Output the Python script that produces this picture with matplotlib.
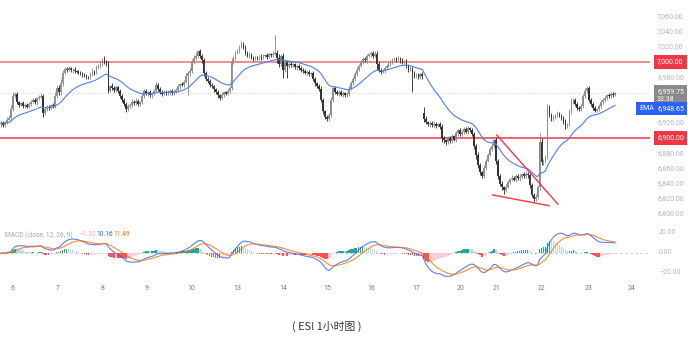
import numpy as np
import pandas as pd
import matplotlib
matplotlib.use("Agg")
import matplotlib.pyplot as plt
import matplotlib.transforms as mtrans

# ES1! hourly closes (one row = 10 bars)
closes = [
    6920, 6917, 6921, 6924, 6926, 6938, 6955, 6958, 6947, 6944,
    6946, 6942, 6944, 6941, 6945, 6948, 6950, 6947, 6952, 6954,
    6955, 6933, 6938, 6941, 6940, 6943, 6942, 6955, 6966, 6960,
    6972, 6986, 6991, 6990, 6992, 6989, 6990, 6988, 6987, 6986,
    6985, 6983, 6982, 6980, 6979, 6984, 6988, 6986, 6993, 6995,
    6998, 7003, 7000, 6998, 6962, 6968, 6966, 6963, 6967, 6962,
    6955, 6950, 6945, 6938, 6942, 6944, 6948, 6946, 6949, 6945,
    6947, 6955, 6962, 6958, 6960, 6956, 6958, 6962, 6970, 6965,
    6960, 6958, 6961, 6959, 6960, 6962, 6959, 6961, 6963, 6968,
    6971, 6970, 6974, 6982, 6985, 6988, 7000, 7005, 7008, 7014,
    7008, 7003, 6985, 6978, 6975, 6970, 6968, 6964, 6960, 6956,
    6953, 6957, 6960, 6958, 6962, 6966, 7000, 7005, 7012, 7015,
    7020, 7024, 7020, 7012, 7008, 7010, 7006, 7004, 7006, 7005,
    7007, 7006, 7008, 7009, 7007, 7010, 7009, 7011, 7012, 7005,
    6998, 7008, 6990, 7000, 6995, 6998, 6996, 6997, 6993, 6995,
    6992, 6990, 6988, 6986, 6987, 6984, 6985, 6978, 6972, 6968,
    6965, 6950, 6935, 6928, 6925, 6930, 6950, 6966, 6960, 6958,
    6961, 6957, 6959, 6956, 6958, 6965, 6972, 6978, 6984, 6990,
    6995, 7000, 7004, 7002, 7008, 7010, 7012, 7008, 7011, 6998,
    6990, 6987, 6989, 6992, 6995, 6998, 7000, 7002, 7004, 7003,
    7005, 7002, 7000, 7001, 6995, 6990, 6992, 6985, 6982, 6983,
    6980, 6984, 6981, 6925, 6921, 6918, 6920, 6917, 6919, 6916,
    6918, 6915, 6900, 6897, 6895, 6900, 6896, 6902, 6898, 6906,
    6910, 6905, 6908, 6912, 6908, 6913, 6910, 6905, 6890, 6878,
    6865, 6855, 6850, 6860, 6870, 6878, 6885, 6890, 6897, 6870,
    6850, 6840, 6835, 6832, 6836, 6842, 6846, 6848, 6845, 6850,
    6847, 6849, 6852, 6850, 6853, 6851, 6838, 6825, 6820, 6823,
    6835, 6895, 6868, 6870, 6875, 6940, 6930, 6925, 6928, 6930,
    6932, 6929, 6927, 6922, 6916, 6918, 6935, 6948, 6950, 6945,
    6940, 6938, 6942, 6955, 6962, 6966, 6950, 6945, 6940, 6936,
    6938, 6942, 6948, 6950, 6953, 6956, 6955, 6958, 6957, 6959.75,
]
wick_up = [
    3, 2, 2, 3, 4, 6, 5, 3, 2, 2,
    2, 3, 2, 2, 3, 2, 3, 2, 2, 3,
    4, 3, 2, 3, 2, 2, 3, 5, 4, 4,
    5, 4, 3, 2, 3, 2, 2, 3, 2, 2,
    2, 2, 3, 2, 2, 3, 4, 2, 3, 3,
    4, 2, 5, 3, 3, 2, 4, 2, 3, 2,
    2, 3, 2, 2, 3, 2, 3, 2, 3, 2,
    2, 4, 3, 2, 2, 3, 2, 3, 4, 2,
    2, 3, 2, 2, 3, 2, 2, 2, 3, 3,
    2, 3, 2, 3, 3, 4, 4, 4, 5, 2,
    3, 2, 2, 3, 2, 2, 3, 2, 2, 3,
    2, 3, 2, 2, 3, 3, 5, 3, 3, 2,
    3, 3, 2, 3, 2, 3, 2, 2, 2, 2,
    2, 3, 2, 2, 3, 2, 2, 3, 23, 4,
    5, 3, 4, 3, 3, 2, 3, 2, 2, 3,
    2, 3, 2, 3, 2, 2, 2, 3, 2, 2,
    3, 4, 3, 2, 2, 3, 4, 3, 2, 3,
    2, 2, 3, 2, 3, 3, 3, 2, 3, 3,
    3, 3, 2, 3, 3, 2, 3, 2, 3, 4,
    3, 2, 2, 3, 3, 2, 2, 3, 2, 2,
    3, 2, 3, 2, 3, 2, 3, 2, 3, 2,
    2, 2, 3, 8, 4, 2, 3, 2, 3, 2,
    2, 3, 3, 2, 2, 3, 2, 3, 2, 3,
    2, 3, 2, 3, 2, 3, 2, 3, 3, 2,
    3, 2, 2, 4, 3, 2, 3, 3, 3, 4,
    2, 3, 3, 2, 3, 3, 2, 3, 2, 3,
    2, 3, 2, 3, 3, 2, 3, 3, 2, 3,
    3, 12, 5, 3, 3, 5, 4, 3, 2, 2,
    3, 2, 3, 2, 3, 2, 3, 4, 3, 2,
    3, 2, 3, 3, 4, 3, 3, 2, 3, 2,
    2, 3, 2, 3, 2, 2, 3, 2, 2, 1,
]
wick_dn = [
    4, 3, 2, 3, 2, 2, 3, 3, 2, 3,
    2, 3, 3, 2, 2, 3, 2, 2, 3, 2,
    2, 5, 3, 2, 3, 2, 2, 3, 3, 4,
    3, 3, 2, 3, 2, 2, 3, 2, 2, 2,
    2, 3, 2, 3, 2, 2, 2, 3, 2, 2,
    3, 3, 2, 3, 3, 2, 3, 3, 2, 3,
    3, 2, 3, 4, 3, 2, 3, 2, 2, 3,
    3, 2, 3, 2, 3, 2, 3, 2, 2, 3,
    2, 3, 2, 2, 3, 3, 2, 3, 2, 3,
    3, 2, 3, 2, 25, 3, 3, 2, 2, 3,
    3, 4, 3, 3, 2, 3, 2, 3, 2, 3,
    3, 2, 3, 2, 2, 3, 3, 2, 3, 2,
    3, 2, 3, 3, 2, 3, 2, 3, 2, 2,
    2, 3, 2, 2, 3, 2, 2, 3, 2, 6,
    5, 3, 11, 3, 16, 3, 2, 3, 2, 3,
    2, 3, 2, 2, 3, 2, 3, 3, 3, 2,
    3, 3, 4, 3, 3, 3, 3, 3, 2, 2,
    3, 2, 3, 2, 2, 3, 2, 2, 3, 2,
    2, 2, 3, 2, 3, 2, 3, 3, 2, 8,
    3, 3, 2, 3, 2, 2, 3, 2, 2, 3,
    2, 3, 2, 3, 3, 3, 2, 25, 3, 3,
    2, 3, 3, 4, 3, 2, 3, 2, 3, 3,
    2, 3, 5, 3, 4, 3, 3, 3, 2, 3,
    3, 2, 3, 3, 2, 3, 2, 3, 4, 5,
    5, 4, 3, 3, 2, 2, 2, 2, 3, 4,
    4, 3, 4, 6, 3, 2, 3, 3, 2, 3,
    2, 3, 3, 2, 3, 3, 4, 3, 4, 3,
    3, 3, 4, 3, 3, 3, 3, 3, 2, 3,
    3, 2, 3, 3, 4, 3, 2, 3, 3, 3,
    3, 2, 3, 3, 2, 3, 3, 3, 3, 2,
    2, 3, 2, 3, 2, 3, 2, 2, 3, 2,
]
first_open = 6918
gap_bar = 213        # first bar after the weekend
gap_open = 6933

day_labels = ["6", "7", "8", "9", "10", "13", "14", "15", "16", "17",
              "20", "21", "22", "23", "24"]
day_pos = [6, 28.5, 51, 73.5, 96, 119, 142, 164, 186.5, 209,
           231.5, 249.5, 272, 295.5, 317.5]

price_ticks = [7060, 7040, 7020, 7000, 6980, 6960, 6940, 6920, 6900,
               6880, 6860, 6840, 6820, 6800]
hidden_ticks = [7000, 6960, 6940, 6900]
levels = [7000, 6900]
macd_ticks = [20, 0, -20]
macd_tick_labels = ["20.00", "0.00", "\u221220.00"]

wedge_upper = ([249.5, 280.3], [6904, 6813])
wedge_lower = ([247.5, 275.8], [6825, 6811])

last_price = 6959.75
countdown = "33:38"
ema_last = 6948.65
macd_legend = ["\u22121.32", "10.16", "11.49"]

# ---- build candles / indicators ----
c = np.array(closes, dtype=float)
o = np.r_[first_open, c[:-1]]
o[gap_bar] = gap_open
h = np.maximum(o, c) + np.array(wick_up)
l = np.minimum(o, c) - np.array(wick_dn)
x = np.arange(len(c))

s = pd.Series(c)
ema = s.ewm(span=25, adjust=False).mean()
macd = s.ewm(span=12, adjust=False).mean() - s.ewm(span=26, adjust=False).mean()
signal = macd.ewm(span=9, adjust=False).mean()
hist = (macd - signal).values

small = ["Roboto", "DejaVu Sans"]

fig = plt.figure(figsize=(6.88, 3.38), dpi=100)
W, H = 688.0, 338.0
ax = fig.add_axes([0, 1 - 222 / H, 650 / W, 222 / H])
ax2 = fig.add_axes([0, 1 - 282 / H, 650 / W, 60 / H])

xlim = (-0.5, 326.6)
for a in (ax, ax2):
    a.set_xlim(*xlim)
    a.set_xticks([])
    a.set_yticks([])
    for sp in a.spines.values():
        sp.set_visible(False)
    a.patch.set_alpha(0)

ax.set_ylim(6789.5, 7081.6)
ax2.set_ylim(-29, 31)

# candles
up = c >= o
col = np.where(up, "#8e8e8e", "#333333")
ax.vlines(x, l, h, colors=col, linewidth=0.65, zorder=2)
body = np.maximum(np.abs(c - o), 0.6)
ax.bar(x, body, bottom=np.minimum(o, c), width=0.8, color=col, linewidth=0, zorder=2)

ax.plot(x, ema, color="#4a80f0", linewidth=0.8, zorder=3)

# level lines
ax.axhline(levels[0], color="#f58a8f", linewidth=1.4, zorder=1)
ax.axhline(levels[1], color="#f23645", linewidth=1.1, zorder=1)
ax.axhline(last_price, color="#c8c8c8", linewidth=0.6, linestyle=(0, (1, 2)), zorder=1)

ax.plot(*wedge_upper, color="#f23645", linewidth=1.0, zorder=4)
ax.plot(*wedge_lower, color="#f23645", linewidth=1.0, zorder=4)

# price scale
tr = mtrans.blended_transform_factory(ax.transAxes, ax.transData)
lx = 657 / 650
for p in price_ticks:
    if p in hidden_ticks:
        continue
    ax.text(lx, p, f"{p:,.2f}", transform=tr, fontsize=5, color="#b2b5be",
            va="center", ha="left", family=small, clip_on=False)

for p in levels:
    ax.text(lx, p, f"{p:,.2f}", transform=tr, fontsize=5, color="white",
            va="center", ha="left", family=small, clip_on=False, zorder=6,
            bbox=dict(boxstyle="square,pad=0.45", fc="#f23645", ec="none"))

ax.text(lx, 6956, f"{last_price:,.2f}\n{countdown}", transform=tr, fontsize=5,
        color="white", va="center", ha="left", family=small, clip_on=False,
        linespacing=1.25, zorder=6,
        bbox=dict(boxstyle="square,pad=0.45", fc="#8a8a8a", ec="none"))

ax.text(lx, 6939, f"{ema_last:,.2f}", transform=tr, fontsize=5, color="white",
        va="center", ha="left", family=small, clip_on=False, zorder=6,
        bbox=dict(boxstyle="square,pad=0.45", fc="#2962ff", ec="none"))
ax.text(639 / 650, 6939, "EMA", transform=tr, fontsize=5, color="white",
        va="center", ha="left", family=small, clip_on=False, zorder=6,
        bbox=dict(boxstyle="square,pad=0.45", fc="#2962ff", ec="none"))

# MACD panel
prev = np.r_[0, hist[:-1]]
hcol = np.where(hist >= 0,
                np.where(hist >= prev, "#26a69a", "#b2dfdb"),
                np.where(hist < prev, "#ff5252", "#ffcdd2"))
ax2.bar(x, hist, width=0.8, color=hcol, linewidth=0, zorder=2)
ax2.plot(x, macd, color="#2962ff", linewidth=0.8, alpha=0.8, zorder=3)
ax2.plot(x, signal, color="#ff6d00", linewidth=0.8, alpha=0.8, zorder=3)
ax2.axhline(0, color="#c8c8c8", linewidth=0.6, linestyle=(0, (3, 3)), zorder=1)

tr2 = mtrans.blended_transform_factory(ax2.transAxes, ax2.transData)
for v, t in zip(macd_ticks, macd_tick_labels):
    ax2.text(659 / 650, v, t, transform=tr2, fontsize=5, color="#b2b5be",
             va="center", ha="left", family=small, clip_on=False)

ly = 1 - 13 / 60
ax2.text(5 / 650, ly, "MACD (close, 12, 26, 9)", transform=ax2.transAxes,
         fontsize=4.8, color="#a3a6af", va="center", family=small)
for xp, t, cc in zip([79, 96, 113], macd_legend, ["#f7a9a7", "#2962ff", "#ff6d00"]):
    ax2.text(xp / 650, ly, t, transform=ax2.transAxes, fontsize=4.8, color=cc,
             va="center", family=small)

tr3 = mtrans.blended_transform_factory(ax2.transData, ax2.transAxes)
for xp, t in zip(day_pos, day_labels):
    ax2.text(xp, -6 / 60, t, transform=tr3, fontsize=5, color="#787b86",
             va="center", ha="center", family=small, clip_on=False)

fig.text(0.4748, 0.034, "( ES! 1小时图 )", ha="center", va="center", fontsize=7.8,
         color="#333333", family=["Noto Sans CJK SC", "DejaVu Sans"])

fig.savefig("out.png", dpi=100)
